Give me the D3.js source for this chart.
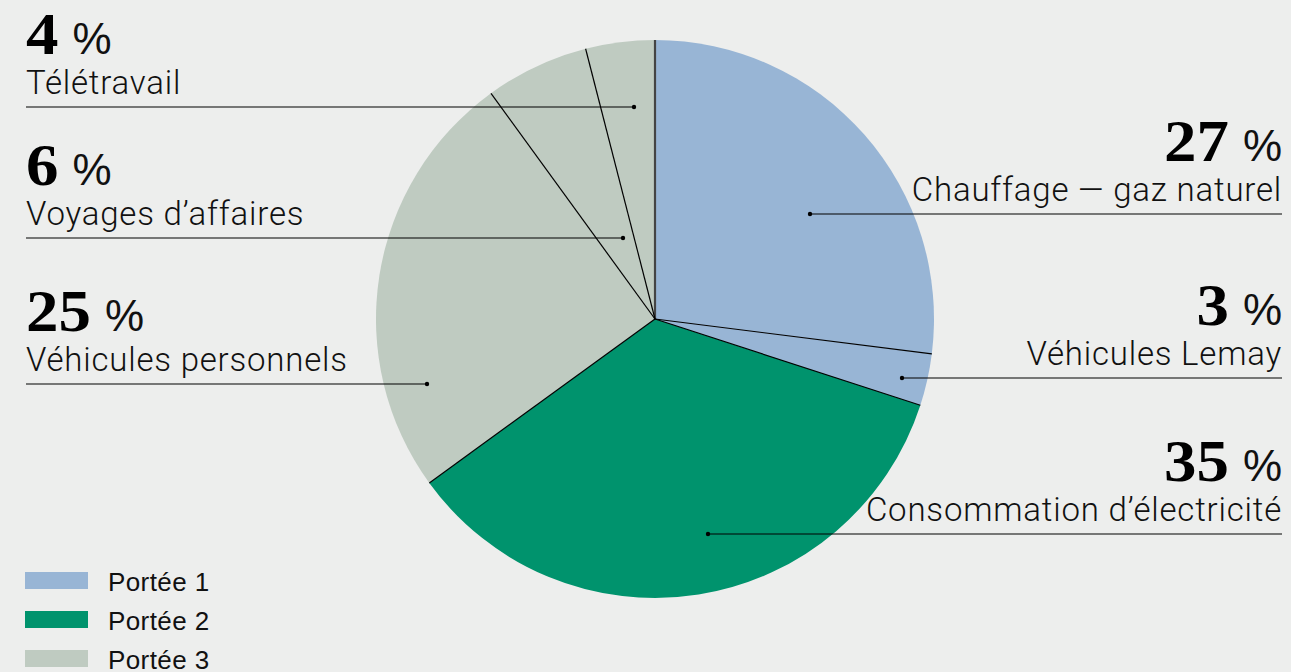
<!DOCTYPE html>
<html>
<head>
<meta charset="utf-8">
<script src="https://cdn.jsdelivr.net/npm/d3@7"></script>
<style>
  body { margin: 0; background: #edeeed; }
  svg { display: block; }
</style>
</head>
<body>
<div class="chart"></div>
<script>
// data
var labels = ["Chauffage — gaz naturel", "Véhicules Lemay", "Consommation d’électricité",
  "Véhicules personnels", "Voyages d’affaires", "Télétravail"];
var values = [27, 3, 35, 25, 6, 4];
var scopes = [1, 1, 2, 3, 3, 3];
var scopeNames = ["Portée 1", "Portée 2", "Portée 3"];

var svgWidth = 1291;
var svgHeight = 672;

var cx = 655, cy = 319, radius = 279;

// label layout: side, leader line y, dot offset from pie centre
var layout = [
  { side: "right", lineY: 214, dot: [155, -105] },
  { side: "right", lineY: 378, dot: [247, 59] },
  { side: "right", lineY: 534, dot: [53, 215] },
  { side: "left",  lineY: 384, dot: [-228, 65] },
  { side: "left",  lineY: 238, dot: [-32, -81] },
  { side: "left",  lineY: 107, dot: [-21, -212] }
];

var color = d3.scaleOrdinal()
  .domain([1, 2, 3])
  .range(["#98b5d5", "#00936d", "#bfcbc1"]);

var svg = d3.select(".chart")
  .append("svg")
  .attr("width", svgWidth)
  .attr("height", svgHeight);

svg.append("rect")
  .attr("width", svgWidth)
  .attr("height", svgHeight)
  .attr("fill", "#edeeed");

var pie = d3.pie().sort(null).value(d => d);
var arcs = pie(values);

var arc = d3.arc().innerRadius(0).outerRadius(radius);

var pieGroup = svg.append("g")
  .attr("transform", `translate(${cx}, ${cy})`);

pieGroup.selectAll("path")
  .data(arcs)
  .enter().append("path")
  .attr("d", arc)
  .attr("fill", (d, i) => color(scopes[i]));

// slice boundaries
pieGroup.selectAll("line.sep")
  .data(arcs)
  .enter().append("line")
  .attr("class", "sep")
  .attr("x1", 0).attr("y1", 0)
  .attr("x2", d => radius * Math.sin(d.startAngle))
  .attr("y2", d => -radius * Math.cos(d.startAngle))
  .attr("stroke", (d, i) => i === 0 ? "#444" : "#000")
  .attr("stroke-width", (d, i) => i === 0 ? 2.2 : 1.2);

// labels
var leftX = 26, rightX = 1282;
var lightFont = "Roboto, 'Liberation Sans', sans-serif";
var sansFont = "'Liberation Sans', Arial, sans-serif";

labels.forEach(function(label, i) {
  var l = layout[i];
  var dotX = cx + l.dot[0];
  var g = svg.append("g");

  // leader line and dot
  g.append("line")
    .attr("x1", l.side === "left" ? leftX : dotX)
    .attr("x2", l.side === "left" ? dotX : rightX)
    .attr("y1", l.lineY).attr("y2", l.lineY)
    .attr("stroke", "#000")
    .attr("stroke-width", 1.2);

  g.append("circle")
    .attr("cx", dotX).attr("cy", l.lineY)
    .attr("r", 2.2)
    .attr("fill", "#000");

  g.append("text")
    .attr("x", l.side === "left" ? leftX : rightX)
    .attr("y", l.lineY - 13)
    .attr("text-anchor", l.side === "left" ? "start" : "end")
    .attr("font-family", lightFont)
    .attr("font-weight", 300)
    .attr("font-size", "33px")
    .attr("letter-spacing", "0.8px")
    .attr("fill", "#111")
    .text(label);

  // big number + %
  var pct = g.append("text")
    .attr("y", l.lineY - 53)
    .attr("font-family", sansFont)
    .attr("font-size", "44px")
    .attr("fill", "#111")
    .text("%");
  var pctW = pct.node().getComputedTextLength();

  var num = g.append("text")
    .attr("font-family", "'Liberation Serif', serif")
    .attr("font-weight", 700)
    .attr("font-size", "59px")
    .attr("fill", "#000")
    .text(values[i]);
  var sx = 1.1;
  var numW = num.node().getComputedTextLength() * sx;
  var gap = 14;

  var numX;
  if (l.side === "left") {
    numX = leftX;
    pct.attr("x", leftX + numW + gap);
  } else {
    pct.attr("x", rightX - pctW);
    numX = rightX - pctW - gap - numW;
  }
  num.attr("transform", `translate(${numX}, ${l.lineY - 53}) scale(${sx}, 1)`);
});

// legend
var legend = svg.append("g")
  .attr("transform", "translate(25, 572)");

var legendItem = legend.selectAll("g")
  .data(scopeNames)
  .enter().append("g")
  .attr("transform", (d, i) => `translate(0, ${i * 39})`);

legendItem.append("rect")
  .attr("width", 63)
  .attr("height", 17)
  .attr("fill", (d, i) => color(i + 1));

legendItem.append("text")
  .attr("x", 83)
  .attr("y", 19)
  .attr("font-family", sansFont)
  .attr("font-size", "26px")
  .attr("letter-spacing", "0.4px")
  .attr("fill", "#111")
  .text(d => d);
</script>
</body>
</html>
